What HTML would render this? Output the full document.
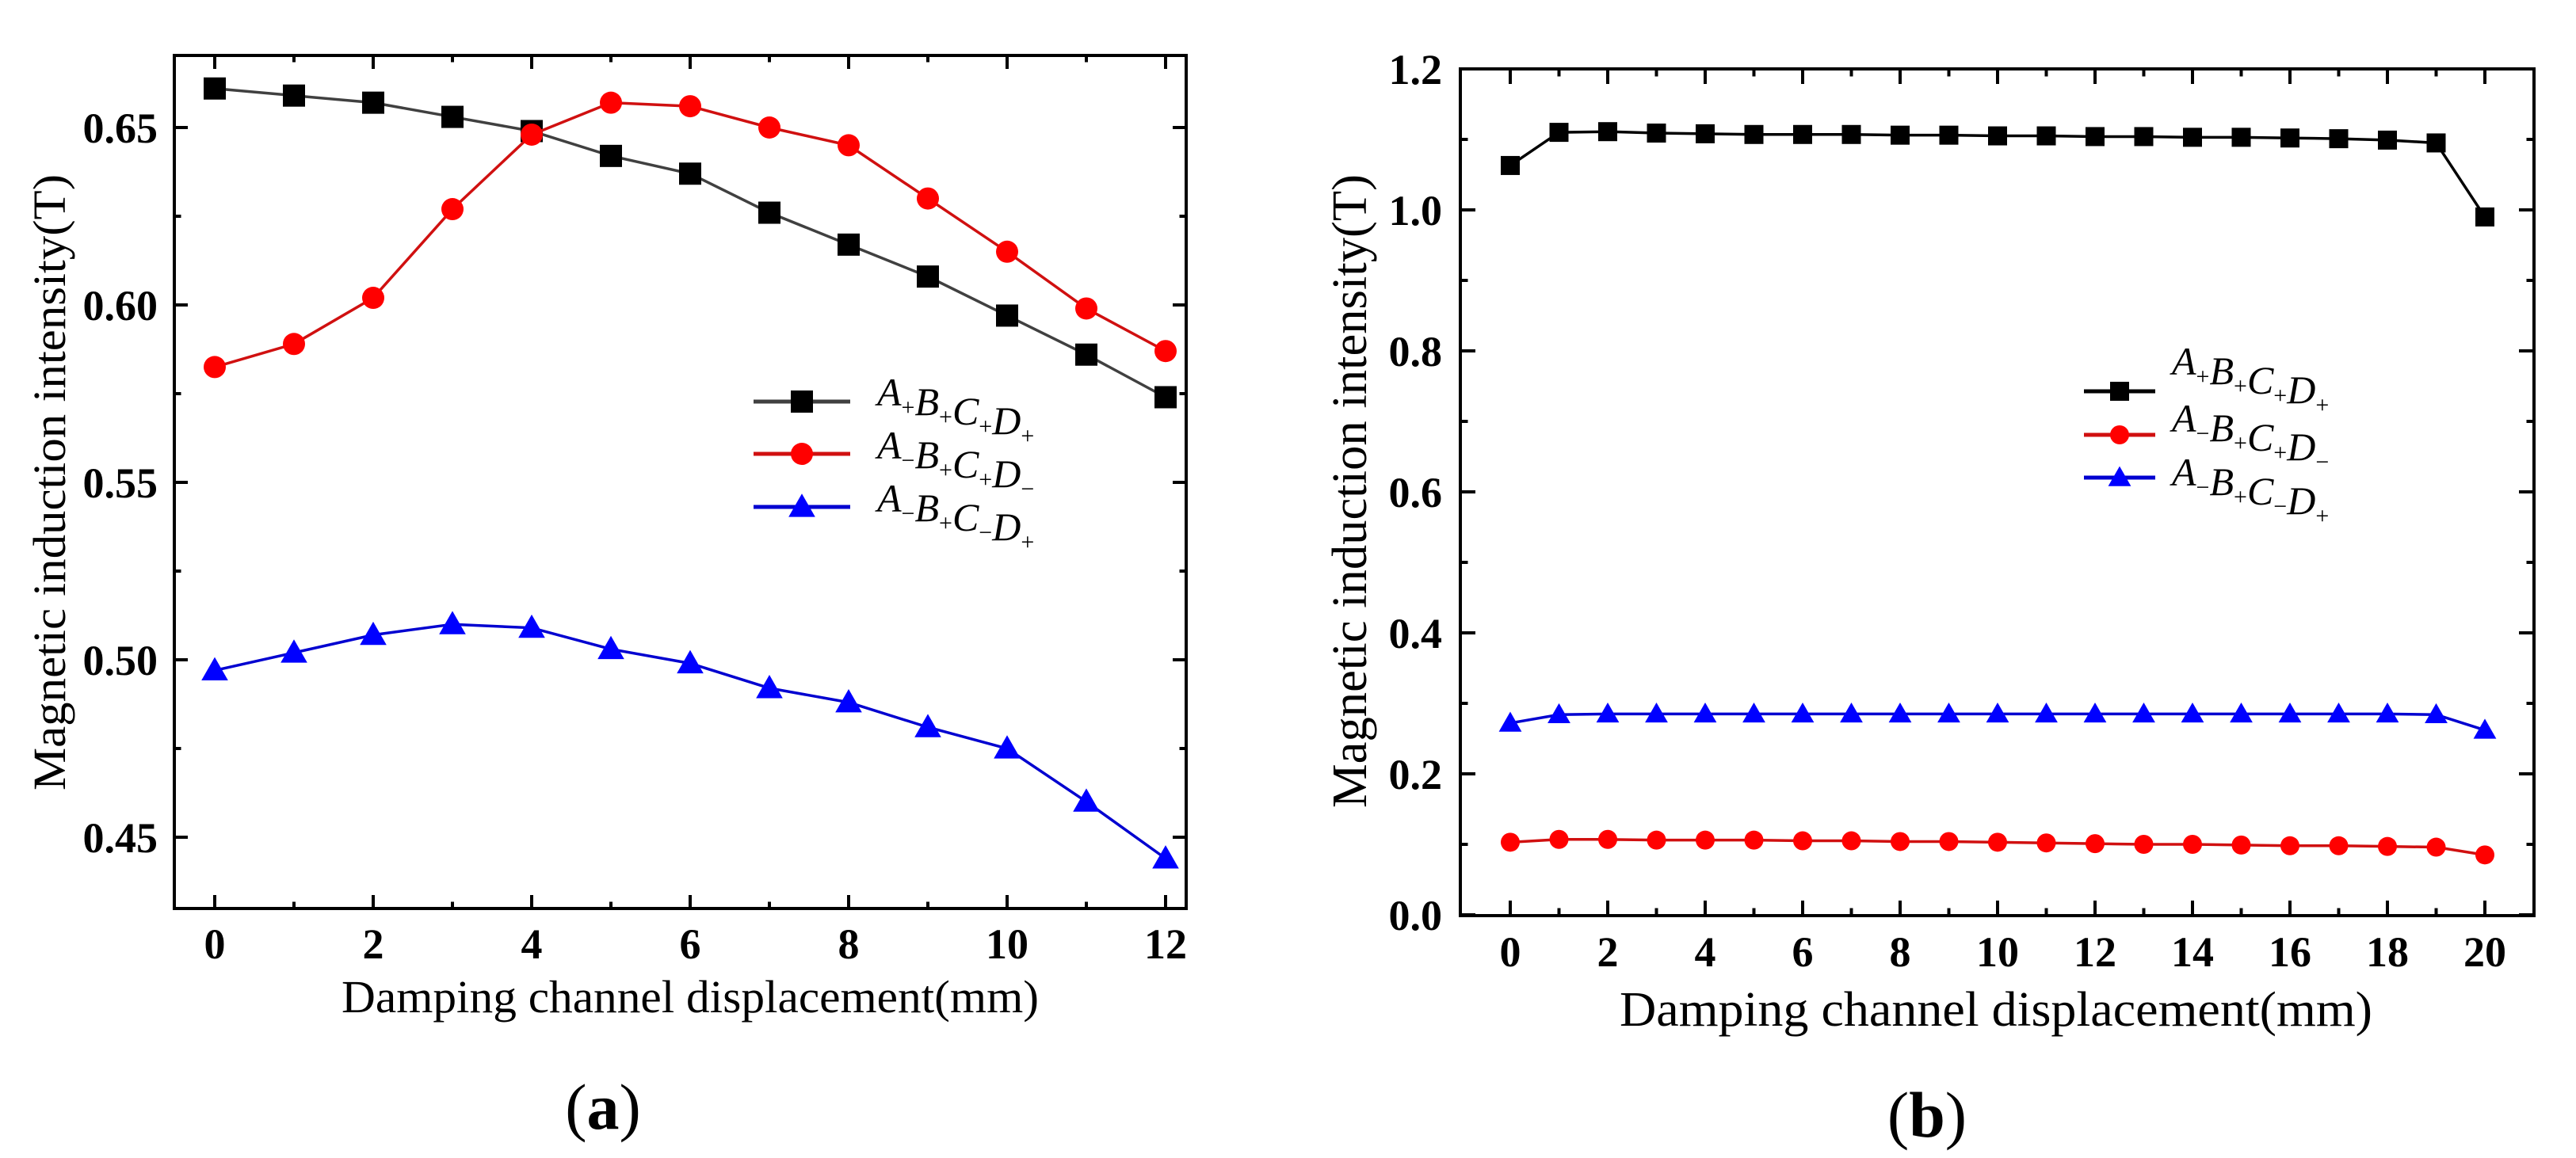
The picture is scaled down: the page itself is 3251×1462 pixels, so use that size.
<!DOCTYPE html>
<html><head><meta charset="utf-8">
<style>
html,body{margin:0;padding:0;background:#fff;}
svg{display:block;}
text{font-family:"Liberation Serif","DejaVu Serif",serif;}
</style></head>
<body>
<svg id="fig" width="3251" height="1462" viewBox="0 0 3251 1462" xmlns="http://www.w3.org/2000/svg">
<rect width="3251" height="1462" fill="#fff"/>
<g id="chartA"></g>
<g id="chartB"></g>
</svg>
<script>
// ---- Chart (a) data ----
const catsA = [0,1,2,3,4,5,6,7,8,9,10,11,12];
const blackA = [0.661,0.659,0.657,0.653,0.649,0.642,0.637,0.626,0.617,0.608,0.597,0.586,0.574];
const redA = [0.5825,0.589,0.602,0.627,0.648,0.657,0.656,0.650,0.645,0.630,0.615,0.599,0.587];
const blueA = [0.497,0.502,0.507,0.510,0.509,0.503,0.499,0.492,0.488,0.481,0.475,0.460,0.444];
const yTicksA = [0.45,0.50,0.55,0.60,0.65];
const yTickLabelsA = ["0.45","0.50","0.55","0.60","0.65"];
const xTicksA = [0,2,4,6,8,10,12];
// ---- Chart (b) data ----
const catsB = [0,1,2,3,4,5,6,7,8,9,10,11,12,13,14,15,16,17,18,19,20];
const blackB = [1.063,1.110,1.111,1.109,1.108,1.107,1.107,1.107,1.106,1.106,1.105,1.105,1.104,1.104,1.103,1.103,1.102,1.101,1.099,1.095,0.990];
const redB = [0.103,0.107,0.107,0.106,0.106,0.106,0.105,0.105,0.104,0.104,0.103,0.102,0.101,0.100,0.100,0.099,0.098,0.098,0.097,0.096,0.085];
const blueB = [0.272,0.284,0.285,0.285,0.285,0.285,0.285,0.285,0.285,0.285,0.285,0.285,0.285,0.285,0.285,0.285,0.285,0.285,0.285,0.284,0.262];
const yTicksB = [0.0,0.2,0.4,0.6,0.8,1.0,1.2];
const yTickLabelsB = ["0.0","0.2","0.4","0.6","0.8","1.0","1.2"];
const xTicksB = [0,2,4,6,8,10,12,14,16,18,20];

const NS = "http://www.w3.org/2000/svg";
function mk(parent, tag, attrs, txt){
  const e = document.createElementNS(NS, tag);
  for (const k in attrs) e.setAttribute(k, attrs[k]);
  if (txt !== undefined) e.textContent = txt;
  parent.appendChild(e);
  return e;
}

function drawChart(g, cfg){
  const xS = v => cfg.x0 + (v - cfg.xmin) * cfg.xu;
  const yS = v => cfg.y0 - (v - cfg.ymin) * cfg.yu;
  const L = cfg.left, R = cfg.right, T = cfg.top, B = cfg.bottom;
  const fr = mk(g, "rect", {x:L, y:T, width:R-L, height:B-T, fill:"none", stroke:"#000", "stroke-width":4});
  
  
  for (let i=0;i<cfg.yTicks.length;i++){
    const v = cfg.yTicks[i], y = yS(v);
    mk(g,"line",{x1:L,x2:L+cfg.tl,y1:y,y2:y,stroke:"#000","stroke-width":4});
    mk(g,"line",{x1:R,x2:R-cfg.tl,y1:y,y2:y,stroke:"#000","stroke-width":4});
    const t = mk(g,"text",{x:cfg.ylabX,y:y+19,"text-anchor":"end","font-size":cfg.tickFs,"font-weight":"bold"},cfg.yLabels[i]);
    
    
    const m = yS(v + cfg.yStep/2);
    if (m > T+2 && m < B-2){
      mk(g,"line",{x1:L,x2:L+cfg.tl/2,y1:m,y2:m,stroke:"#000","stroke-width":4});
      mk(g,"line",{x1:R,x2:R-cfg.tl/2,y1:m,y2:m,stroke:"#000","stroke-width":4});
    }
  }
  for (let v=cfg.xmin; v<=cfg.xmax; v+=1){
    const x = xS(v), major = cfg.xTicks.indexOf(v) >= 0;
    const len = major ? cfg.tl : cfg.tl/2;
    mk(g,"line",{x1:x,x2:x,y1:B,y2:B-len,stroke:"#000","stroke-width":4});
    mk(g,"line",{x1:x,x2:x,y1:T,y2:T+len,stroke:"#000","stroke-width":4});
  }
  for (const v of cfg.xTicks){
    const t = mk(g,"text",{x:xS(v),y:cfg.xlabY,"text-anchor":"middle","font-size":cfg.tickFs,"font-weight":"bold"},String(v));
    
    
  }
  const xt = mk(g,"text",{x:cfg.xtX,y:cfg.xtY,"text-anchor":"middle","font-size":cfg.titleFs,textLength:cfg.xtLen,lengthAdjust:"spacingAndGlyphs"},"Damping channel displacement(mm)");
  
  
  const yt = mk(g,"text",{x:0,y:0,"text-anchor":"middle","font-size":cfg.titleFs,textLength:cfg.ytLen,lengthAdjust:"spacingAndGlyphs",transform:`translate(${cfg.ytX},${cfg.ytY}) rotate(-90)`},"Magnetic induction intensity(T)");
  
  
  const pl = mk(g,"text",{x:cfg.plX,y:cfg.plY,"text-anchor":"middle","font-size":82},"");
  mk(pl,"tspan",{},"(");
  mk(pl,"tspan",{"font-weight":"bold"},cfg.panel);
  mk(pl,"tspan",{},")");
  
  
  const series = [
    {vals:cfg.black, color:"#000", line:cfg.blackLine, shape:"square", name:"series-a-plus-b-plus-c-plus-d-plus"},
    {vals:cfg.red, color:"#f00", line:"#d01010", shape:"circle", name:"series-a-minus-b-plus-c-plus-d-minus"},
    {vals:cfg.blue, color:"#00f", line:"#0000d0", shape:"triangle", name:"series-a-minus-b-plus-c-minus-d-plus"}
  ];
  const ms = cfg.ms;
  function marker(par, shape, cx, cy, color){
    let e;
    if (shape==="square") e = mk(par,"rect",{x:cx-ms/2,y:cy-ms/2,width:ms,height:ms,fill:color});
    else if (shape==="circle") e = mk(par,"circle",{cx:cx,cy:cy,r:ms/2,fill:color});
    else e = mk(par,"polygon",{points:`${cx},${cy-ms*0.6} ${cx-ms*0.6},${cy+ms*0.45} ${cx+ms*0.6},${cy+ms*0.45}`,fill:color});
    return e;
  }
  for (const s of series){
    const sg = mk(g,"g",{});
    
    
    const pts = s.vals.map((v,i)=>`${xS(cfg.cats[i])},${yS(v)}`).join(" ");
    mk(sg,"polyline",{points:pts,fill:"none",stroke:s.line,"stroke-width":3.5});
    s.vals.forEach((v,i)=>{
      const m = marker(sg, s.shape, xS(cfg.cats[i]), yS(v), s.color);
      
      
    });
  }
  const lg = mk(g,"g",{});
  
  
  const labels = [["+","+","+","+"],["\u2212","+","+","\u2212"],["\u2212","+","\u2212","+"]];
  series.forEach((s,i)=>{
    const ly = cfg.legY[i];
    const eg = mk(lg,"g",{});
    
    
    mk(eg,"line",{x1:cfg.legX1,x2:cfg.legX2,y1:ly,y2:ly,stroke:s.line,"stroke-width":5});
    marker(eg, s.shape, (cfg.legX1+cfg.legX2)/2, ly, s.color);
    const t = mk(eg,"text",{x:cfg.legTX,y:cfg.legTY[i],"font-size":cfg.legFs,"font-style":"italic"});
    ["A","B","C","D"].forEach((c,j)=>{
      mk(t,"tspan",{},c);
      mk(t,"tspan",{"font-size":cfg.legFs*0.6,"font-style":"normal",dy:12},labels[i][j]);
      mk(t,"tspan",{dy:-12},"");
    });
  });
}

drawChart(document.getElementById("chartA"), {
  left:220,right:1497,top:70,bottom:1147,
  xmin:0,xmax:12,x0:271,xu:100,ymin:0.45,y0:1057,yu:224/0.05,yStep:0.05,
  yTicks:yTicksA,yLabels:yTickLabelsA,xTicks:xTicksA,cats:catsA,
  black:blackA,red:redA,blue:blueA,blackLine:"#404040",
  tl:17,tickFs:54,ylabX:199,xlabY:1210,titleFs:58,
  xtX:871,xtY:1278,xtLen:880,ytX:82,ytY:609,ytLen:778,
  plX:761,plY:1425,panel:"a",ms:28,
  legX1:951,legX2:1073,legY:[507,573,640],legTX:1107,legTY:[512,579,646],legFs:50
});
drawChart(document.getElementById("chartB"), {
  left:1843,right:3198,top:87,bottom:1156,
  xmin:0,xmax:20,x0:1906,xu:61.5,ymin:0,y0:1155,yu:178/0.2,yStep:0.2,
  yTicks:yTicksB,yLabels:yTickLabelsB,xTicks:xTicksB,cats:catsB,
  black:blackB,red:redB,blue:blueB,blackLine:"#000",
  tl:19,tickFs:54,ylabX:1820,xlabY:1220,titleFs:62,
  xtX:2519,xtY:1295,xtLen:950,ytX:1724,ytY:620,ytLen:800,
  plX:2432,plY:1435,panel:"b",ms:24,
  legX1:2630,legX2:2720,legY:[494,549,603],legTX:2741,legTY:[473,545,613],legFs:50
});
</script>
</body></html>
